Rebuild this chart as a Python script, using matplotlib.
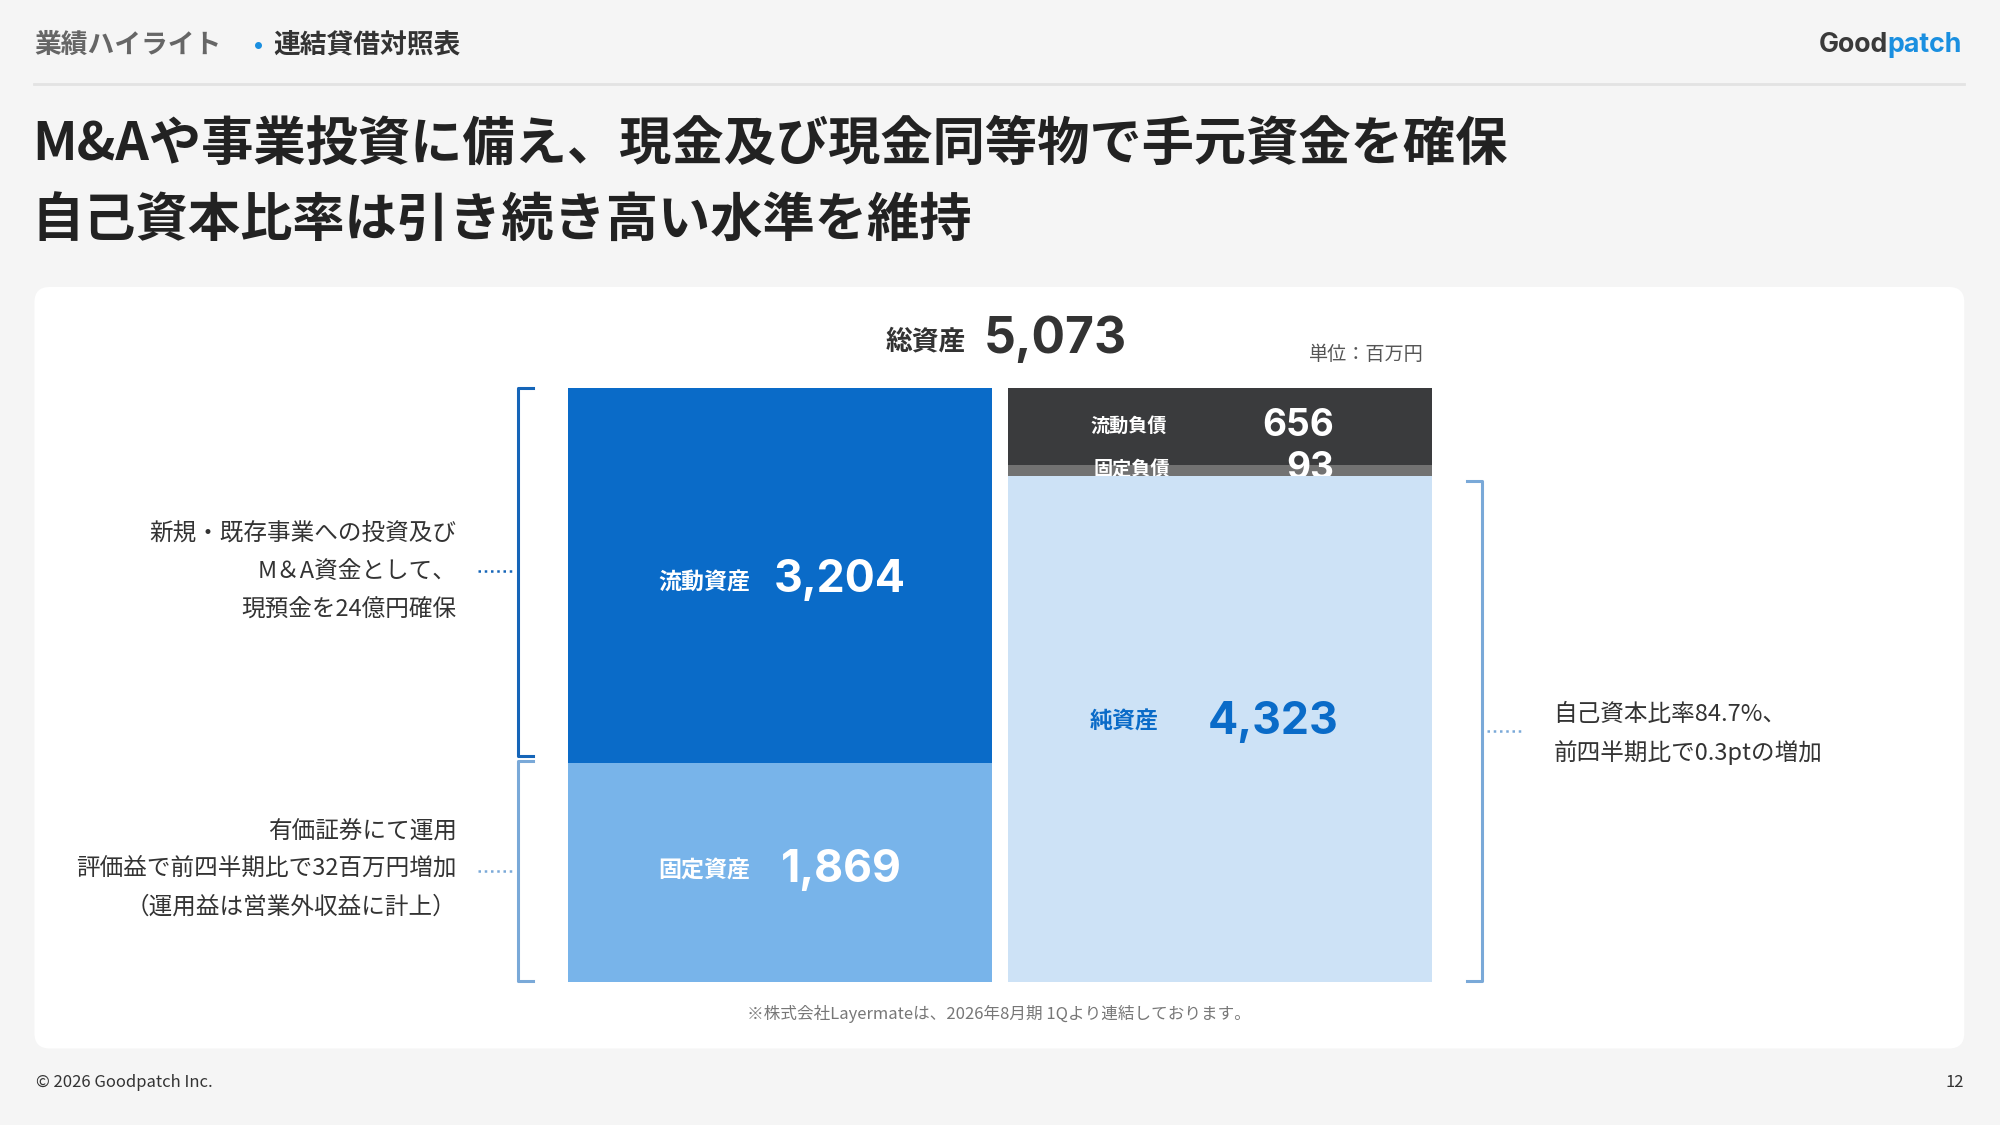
import matplotlib.pyplot as plt
from matplotlib.patches import FancyBboxPatch

plt.rcParams['font.family'] = ['Noto Sans CJK JP', 'DejaVu Sans']

# 貸借対照表（百万円）
assets_labels = ["流動資産", "固定資産"]
assets_values = [3204, 1869]
liab_labels = ["流動負債", "固定負債", "純資産"]
liab_values = [656, 93, 4323]
total_assets = 5073

W, H = 1568, 882          # 参照画像の座標系
S = 2000 / W
def fs(px):
    return px * S * 0.72

fig = plt.figure(figsize=(20, 11.25), dpi=100, facecolor="#f5f5f5")
bg = fig.add_axes([0, 0, 1, 1])
bg.set_xlim(0, W)
bg.set_ylim(H, 0)
bg.axis("off")

# ヘッダー
bg.text(27, 35, "業績ハイライト", fontsize=fs(21), color="#666666", va="center", fontweight="bold")
bg.plot([202], [35], marker="o", ms=4, color="#1a8fe0")
bg.text(214, 35, "連結貸借対照表", fontsize=fs(21), color="#333333", va="center", fontweight="bold")
bg.text(1480, 35, "Good", fontsize=fs(21), color="#3a3a3a", va="center", ha="right", fontweight="bold",
        family="Inter")
bg.text(1480, 35, "patch", fontsize=fs(21), color="#1a8fe0", va="center", ha="left", fontweight="bold",
        family="Inter")
bg.plot([27, 1540], [66, 66], color="#e3e3e3", lw=2)

bg.text(25, 113, "M&Aや事業投資に備え、現金及び現金同等物で手元資金を確保", fontsize=fs(41),
        color="#222222", va="center", fontweight="bold")
bg.text(25, 173, "自己資本比率は引き続き高い水準を維持", fontsize=fs(41),
        color="#222222", va="center", fontweight="bold")

# パネル
bg.add_patch(FancyBboxPatch((27, 225), 1513, 597, boxstyle="round,pad=0,rounding_size=12",
                            fc="white", ec="none"))

bg.text(757, 268, "総資産", fontsize=fs(21), color="#333333", ha="right", va="center", fontweight="bold")
bg.text(771, 266, f"{total_assets:,}", fontsize=fs(39), color="#333333", ha="left", va="center",
        fontweight="bold", family="Inter")
bg.text(1116, 278, "単位：百万円", fontsize=fs(15), color="#555555", ha="right", va="center")

# ブラケット
c_dark, c_light = "#1565b8", "#7aa9d8"
bg.plot([418, 406, 406, 418], [304, 304, 593, 593], color=c_dark, lw=2.2)
bg.plot([418, 406, 406, 418], [597, 597, 769, 769], color=c_light, lw=2.2)
bg.plot([375, 402], [448, 448], color=c_dark, lw=1.8, ls=(0, (1, 1.5)))
bg.plot([375, 402], [683, 683], color=c_light, lw=1.8, ls=(0, (1, 1.5)))
bg.plot([1150, 1162, 1162, 1150], [377, 377, 769, 769], color=c_light, lw=2.2)
bg.plot([1166, 1193], [573, 573], color=c_light, lw=1.8, ls=(0, (1, 1.5)))

for y, s in zip([419, 448, 478], ["新規・既存事業への投資及び", "M＆A資金として、", "現預金を24億円確保"]):
    bg.text(358, y, s, fontsize=fs(18.5), color="#333333", ha="right", va="center")
for y, s in zip([652, 681, 711], ["有価証券にて運用", "評価益で前四半期比で32百万円増加", "（運用益は営業外収益に計上）"]):
    bg.text(358, y, s, fontsize=fs(18.5), color="#333333", ha="right", va="center")
for y, s in zip([560, 590], ["自己資本比率84.7%、", "前四半期比で0.3ptの増加"]):
    bg.text(1218, y, s, fontsize=fs(18.5), color="#333333", ha="left", va="center")

bg.text(783, 795, "※株式会社Layermateは、2026年8月期 1Qより連結しております。", fontsize=fs(13),
        color="#777777", ha="center", va="center")
bg.text(28, 849, "© 2026 Goodpatch Inc.", fontsize=fs(13), color="#333333", va="center")
bg.text(1540, 849, "12", fontsize=fs(13), color="#333333", ha="right", va="center")

# 棒グラフ
x0, x1, y0, y1 = 445, 1123, 304, 770
ax = fig.add_axes([x0 / W, 1 - y1 / H, (x1 - x0) / W, (y1 - y0) / H])
ax.axis("off")
ax.set_facecolor("none")
bw = 333 / 345
ax.set_xlim(-bw / 2, 1 + bw / 2)
ax.set_ylim(total_assets, 0)

a_colors = ["#0a6bc8", "#78b4ea"]
bottom = 0
for v, c in zip(assets_values, a_colors):
    ax.bar(0, v, bottom=bottom, width=bw, color=c, zorder=1)
    bottom += v
l_colors = ["#3a3b3d", "#727272", "#cde2f6"]
l_z = [1, 1, 3]
bottom = 0
for v, c, z in zip(liab_values, l_colors, l_z):
    ax.bar(1, v, bottom=bottom, width=bw, color=c, zorder=z)
    bottom += v

T = bg.transData
ax.text(552, 457, assets_labels[0], transform=T, fontsize=fs(18), color="white", ha="center", va="center", fontweight="bold", zorder=5)
ax.text(658, 455, f"{assets_values[0]:,}", transform=T, fontsize=fs(35), color="white", ha="center", va="center", fontweight="bold", family="Inter", zorder=5)
ax.text(552, 683, assets_labels[1], transform=T, fontsize=fs(18), color="white", ha="center", va="center", fontweight="bold", zorder=5)
ax.text(660, 682, f"{assets_values[1]:,}", transform=T, fontsize=fs(35), color="white", ha="center", va="center", fontweight="bold", family="Inter", zorder=5)
ax.text(885, 334, liab_labels[0], transform=T, fontsize=fs(15), color="white", ha="center", va="center", fontweight="bold", zorder=5)
ax.text(1018, 334, f"{liab_values[0]:,}", transform=T, fontsize=fs(29), color="white", ha="center", va="center", fontweight="bold", family="Inter", zorder=5)
ax.text(887, 369, liab_labels[1], transform=T, fontsize=fs(15), color="white", ha="center", va="center", fontweight="bold", zorder=2)
ax.text(1027, 368, f"{liab_values[1]:,}", transform=T, fontsize=fs(29), color="white", ha="center", va="center", fontweight="bold", family="Inter", zorder=2)
ax.text(881, 566, liab_labels[2], transform=T, fontsize=fs(18), color="#0a6bc8", ha="center", va="center", fontweight="bold", zorder=5)
ax.text(998, 566, f"{liab_values[2]:,}", transform=T, fontsize=fs(35), color="#0a6bc8", ha="center", va="center", fontweight="bold", family="Inter", zorder=5)

fig.savefig("out.png", dpi=100, facecolor=fig.get_facecolor())
